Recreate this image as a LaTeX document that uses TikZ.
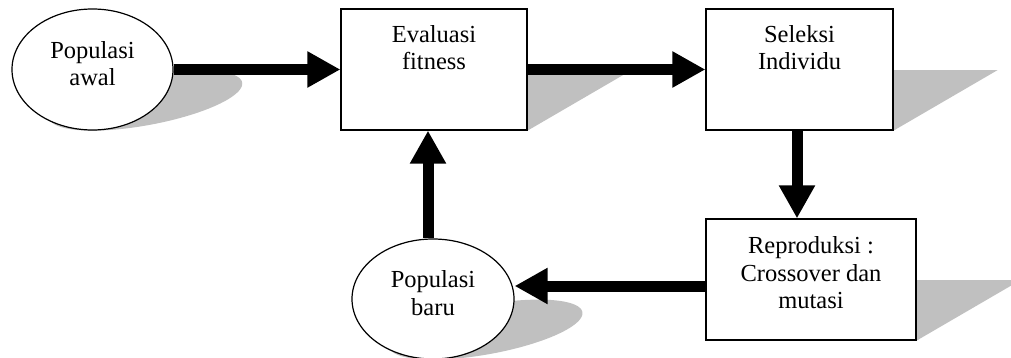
\documentclass[tikz,border=0pt]{standalone}
\usepackage{fontspec}
\setmainfont{Liberation Serif}
\usetikzlibrary{arrows.meta,backgrounds,calc,shapes.geometric}
\definecolor{shadowgray}{RGB}{192,192,192}

\begin{document}
\begin{tikzpicture}[x=1pt,y=-1pt,
  box/.style={draw, line width=1.2pt, fill=white, minimum height=121pt, inner sep=0pt},
  oval/.style={ellipse, draw, line width=1.2pt, fill=white, inner sep=0pt},
  lbl/.style={font=\fontsize{24.5}{27.5}\selectfont, align=center, inner sep=0pt},
  flow/.style={line width=11pt, -{Triangle[length=33pt,width=34pt]}},
  shade/.style={fill=shadowgray},
]
\useasboundingbox (0,0) rectangle (1011,358);

% process boxes
\node[box, minimum width=186pt] (ev)  at (434,69.5) {};
\node[box, minimum width=187pt] (sel) at (799.5,69.5) {};
\node[box, minimum width=210pt] (rep) at (811,279.5) {};

% population ovals
\node[oval, minimum width=161pt, minimum height=121pt] (pa) at (92.5,69.5) {};
\node[oval, minimum width=162pt, minimum height=120pt] (pb) at (433,299) {};

% labels
\node[lbl] (pat) at ([yshift=6pt]pa.center) {Populasi\\awal};
\node[lbl] (pbt) at ([yshift=6pt]pb.center) {Populasi\\baru};
\node[lbl, anchor=north] (evt)  at ([yshift=-16.5pt]ev.north)  {Evaluasi\\fitness};
\node[lbl, anchor=north] (selt) at ([yshift=-16.5pt]sel.north) {Seleksi\\Individu};
\node[lbl, anchor=north] (rept) at ([yshift=-18pt]rep.north)   {Reproduksi :\\Crossover dan\\mutasi};

% flow arrows
\draw[flow] (pa.east) -- (ev.west);
\draw[flow] (ev.east) -- (sel.west);
\draw[flow] ([xshift=-2.5pt]sel.south) -- ([xshift=-2.5pt]sel.south |- rep.north);
\draw[flow] ([yshift=-6.5pt]rep.west) -- ([yshift=-6.5pt]rep.west -| pb.east);
\draw[flow] ([xshift=-5pt]pb.north) -- ([xshift=-5pt]pb.north |- ev.south);

% perspective shadows
\begin{scope}[on background layer]
  \foreach \b in {ev,sel,rep}{
    \fill[shade] (\b.south west) -- (\b.south east) -- ++(104,-60.5)
      -- ($(\b.south west)+(104,-60.5)$) -- cycle;
  }
  \begin{scope}[shift={(pa.south)}]
    \fill[shade] plot[domain=0:360, samples=121, variable=\t]
      ({80.5*cos(\t)+0.88*60.5*(1-sin(\t))}, {-0.5*60.5*(1-sin(\t))}) -- cycle;
  \end{scope}
  \begin{scope}[shift={(pb.south)}]
    \fill[shade] plot[domain=0:360, samples=121, variable=\t]
      ({81*cos(\t)+0.88*60*(1-sin(\t))}, {-0.5*60*(1-sin(\t))}) -- cycle;
  \end{scope}
\end{scope}
\end{tikzpicture}
\end{document}
